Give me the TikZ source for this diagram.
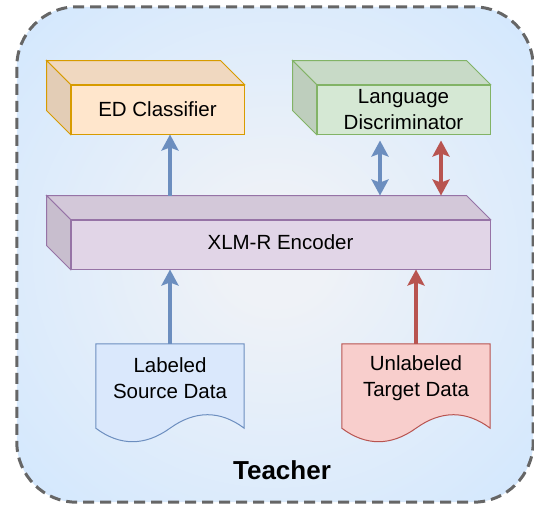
\documentclass[tikz,border=0pt]{standalone}
\usepackage{fontspec}
\setmainfont{Liberation Sans}
\usetikzlibrary{arrows.meta}
\definecolor{bginner}{RGB}{239,242,247}
\definecolor{bgouter}{RGB}{204,229,255}
\definecolor{edfill}{HTML}{FFE6CC}
\definecolor{edline}{HTML}{D79B00}
\definecolor{ldfill}{HTML}{D5E8D4}
\definecolor{ldline}{HTML}{82B366}
\definecolor{encfill}{HTML}{E1D5E7}
\definecolor{encline}{HTML}{9673A6}
\definecolor{srcfill}{HTML}{DAE8FC}
\definecolor{srcline}{HTML}{6C8EBF}
\definecolor{tgtfill}{HTML}{F8CECC}
\definecolor{tgtline}{HTML}{B85450}
\definecolor{frameline}{HTML}{666666}
\pgfdeclareradialshading{bgshade}{\pgfpoint{0bp}{0bp}}{color(0bp)=(bginner); color(5bp)=(bginner); color(42bp)=(bgouter); color(72bp)=(bgouter)}
\tikzset{
  lbl/.style={font=\fontsize{20.5}{26}\selectfont, align=center, text=black},
  frontface/.style={inner sep=0pt, line width=1pt, lbl},
  tipb/.tip={Stealth[length=16pt,width=17pt,inset=3pt]},
  barrow/.style={draw=srcline, fill=srcline, line width=3.5pt, -tipb},
  rarrow/.style={draw=tgtline, fill=tgtline, line width=3.5pt, -tipb},
  bdarrow/.style={draw=srcline, fill=srcline, line width=3.5pt, tipb-tipb},
  rdarrow/.style={draw=tgtline, fill=tgtline, line width=3.5pt, tipb-tipb},
}
\newcommand{\cubefaces}[3]{% name, fill, line
  \draw[line width=1pt, draw=#3, fill=#2!94!black] (#1.north west) -- ([shift={(-24,-24)}]#1.north west) -- ([shift={(-24,-24)}]#1.north east) -- (#1.north east) -- cycle;
  \draw[line width=1pt, draw=#3, fill=#2!89!black] (#1.north west) -- ([shift={(-24,-24)}]#1.north west) -- ([shift={(-24,-24)}]#1.south west) -- (#1.south west) -- cycle;
}
\newcommand{\docshape}[3]{% name, fill, line
  \draw[line width=1pt, draw=#3, fill=#2] (#1.north west) -- (#1.north east) -- (#1.south east)
    .. controls ([shift={(-24,-18)}]#1.south east) and ([shift={(25,-18)}]#1.south) .. (#1.south)
    .. controls ([shift={(-25,18)}]#1.south) and ([shift={(24,18)}]#1.south west) .. (#1.south west) -- cycle;
}
\begin{document}
\begin{tikzpicture}[x=1pt,y=-1pt]
\useasboundingbox (0,0) rectangle (534,504);
% frame
\node[inner sep=0pt, minimum width=516pt, minimum height=495pt] (frame) at (275,254.5) {};
\shade[shading=bgshade, rounded corners=60pt] (frame.north west) rectangle (frame.south east);
\draw[draw=frameline, line width=3pt, dash pattern=on 11pt off 6pt, rounded corners=60pt] (frame.north west) rectangle (frame.south east);
% ED classifier
\node[frontface, draw=edline, fill=edfill, minimum width=173pt, minimum height=49pt] (ed) at (157.5,109.5) {};
\cubefaces{ed}{edfill}{edline}
\node[lbl] (edlbl) at (ed.center) {ED Classifier};
% Language discriminator
\node[frontface, draw=ldline, fill=ldfill, minimum width=173pt, minimum height=49pt] (ld) at (403.5,109.5) {};
\cubefaces{ld}{ldfill}{ldline}
\node[lbl] (ldlbl) at (ld.center) {Language\\Discriminator};
% Encoder
\node[frontface, draw=encline, fill=encfill, minimum width=419pt, minimum height=49pt] (enc) at (280.5,244.5) {};
\cubefaces{enc}{encfill}{encline}
\node[lbl] (enclbl) at ([yshift=2pt]enc.center) {XLM-R Encoder};
\coordinate (enctop) at ([yshift=24pt]enc.north);
% documents
\node[inner sep=0pt, minimum width=148pt, minimum height=84pt] (src) at (170,386) {};
\docshape{src}{srcfill}{srcline}
\node[lbl] (srclbl) at ([yshift=8pt]src.center) {Labeled\\Source Data};
\node[inner sep=0pt, minimum width=148pt, minimum height=84pt] (tgt) at (416,386) {};
\docshape{tgt}{tgtfill}{tgtline}
\node[lbl] (tgtlbl) at ([yshift=8pt]tgt.center) {Unlabeled\\Target Data};
% arrows
\draw[barrow] (src.north) -- (src.north |- enc.south);
\draw[rarrow] (tgt.north) -- (tgt.north |- enc.south);
\draw[barrow] (src.north |- enctop) -- (src.north |- ed.south);
\coordinate (bd) at ([xshift=-23.5pt, yshift=-6pt]ld.south);
\coordinate (rd) at ([xshift=37.5pt, yshift=-6pt]ld.south);
\draw[bdarrow] (bd) -- (bd |- enctop);
\draw[rdarrow] (rd) -- (rd |- enctop);
% title
\node[font=\fontsize{26}{30}\selectfont\bfseries] (teacher) at (282,470) {Teacher};
\end{tikzpicture}
\end{document}
